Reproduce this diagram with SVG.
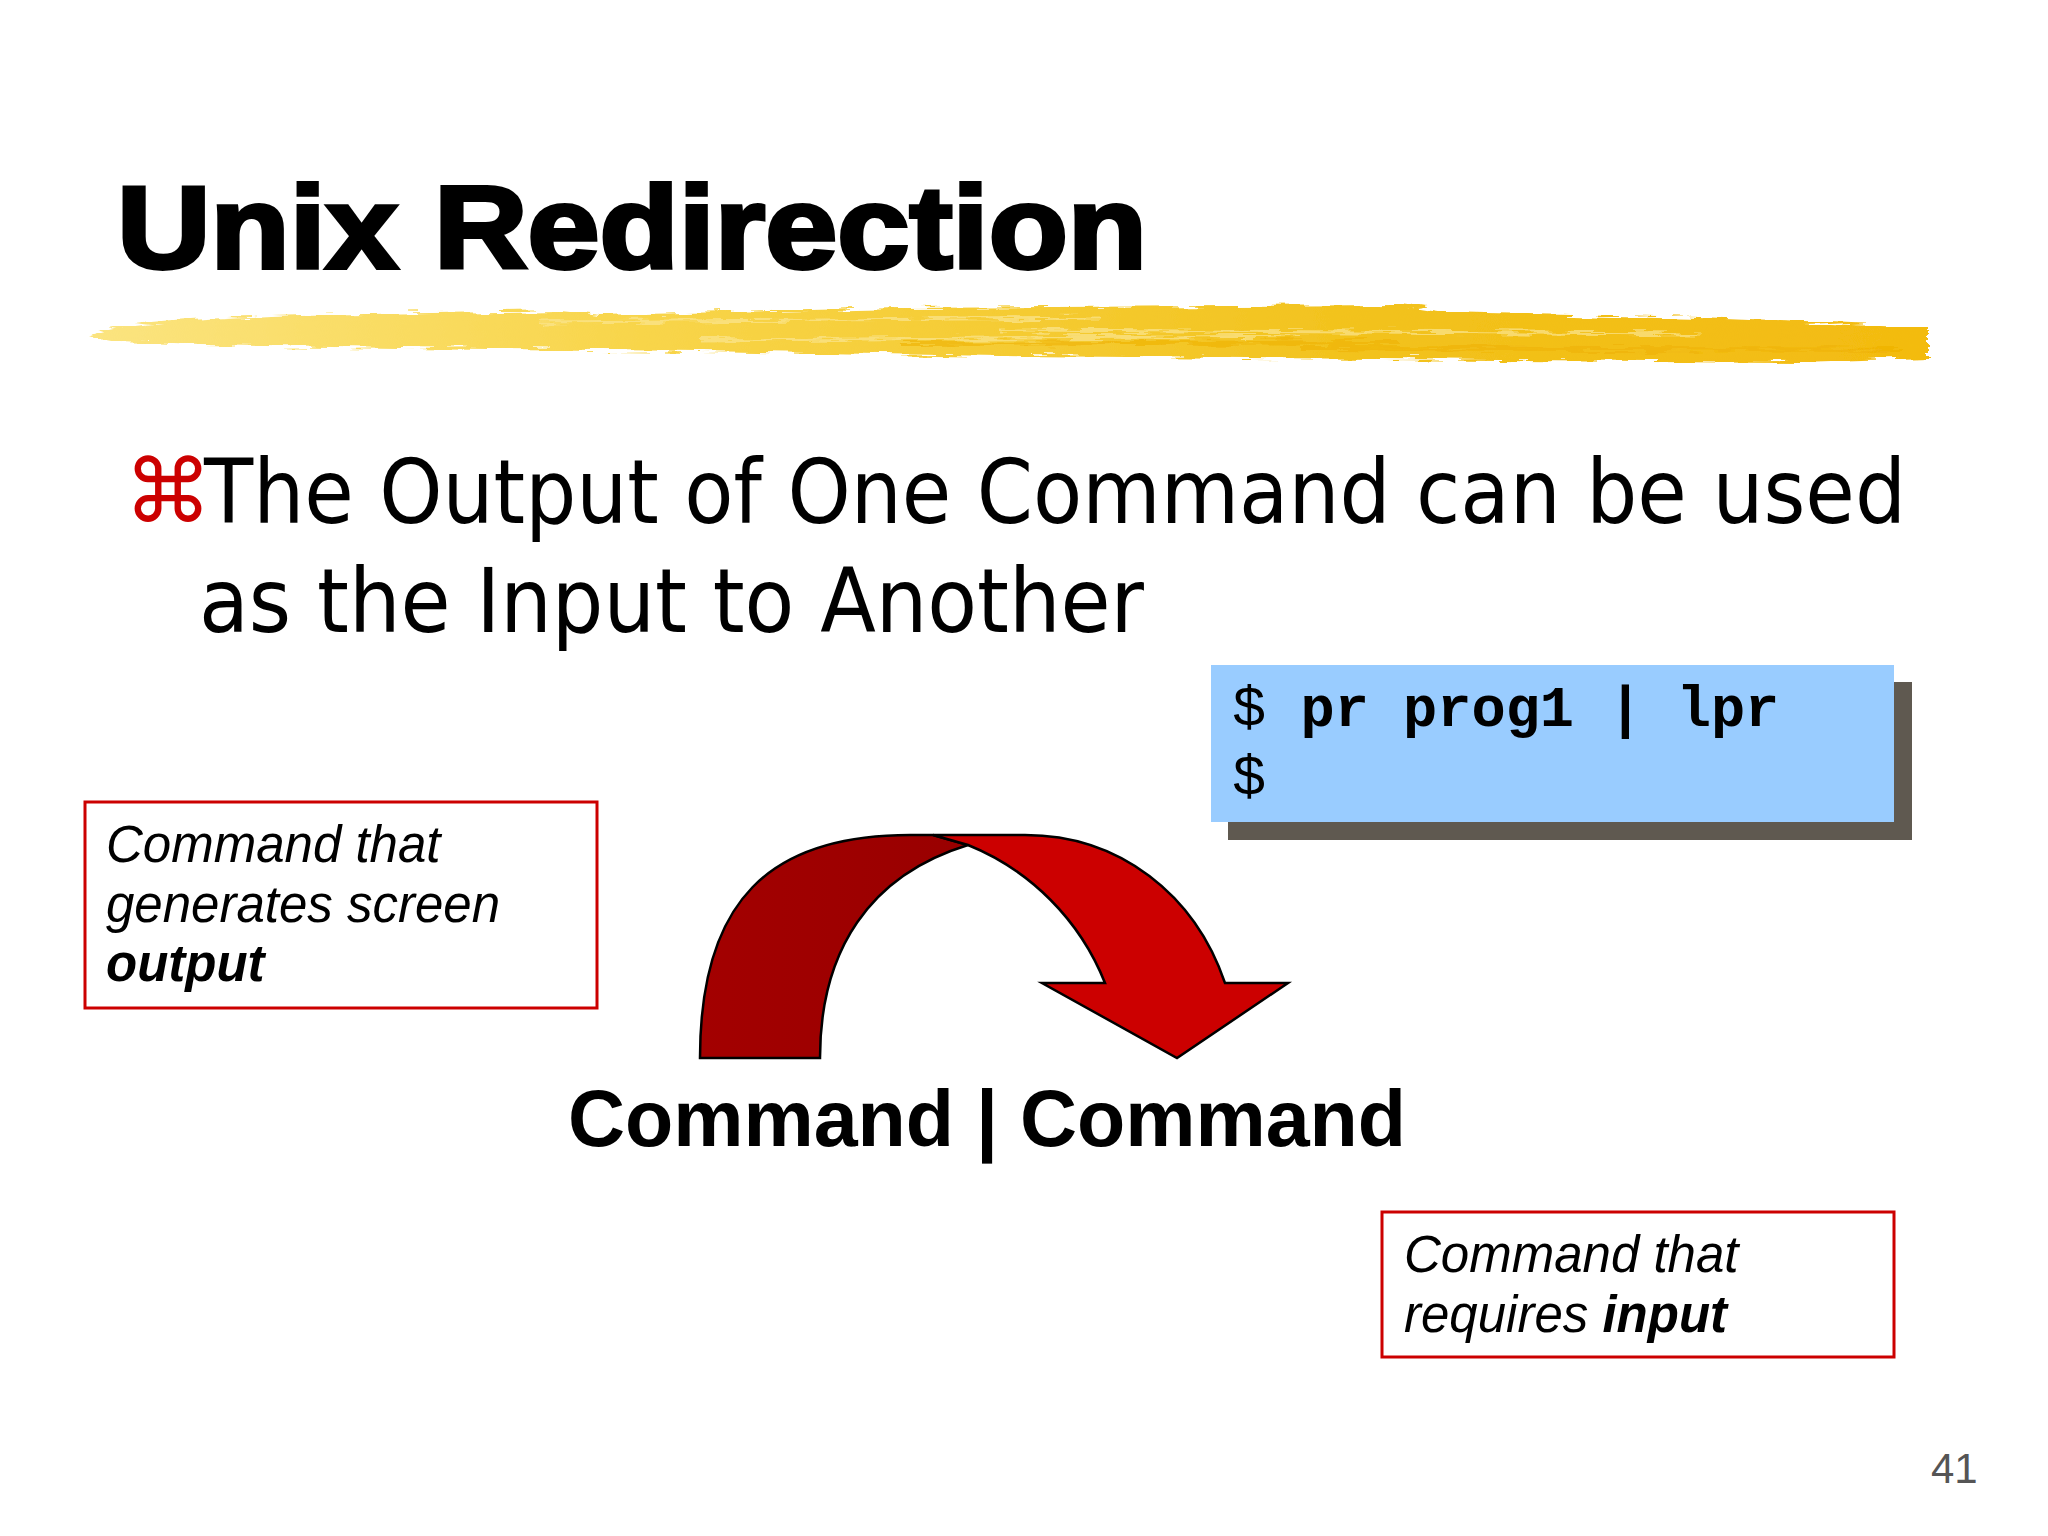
<svg xmlns="http://www.w3.org/2000/svg" width="2048" height="1536" viewBox="0 0 2048 1536">
<style>
.title{font-family:"Liberation Sans",Arial,sans-serif;font-weight:bold;font-size:116px;fill:#000;stroke:#000;stroke-width:4px}
.bullet{font-family:"DejaVu Sans Condensed","DejaVu Sans",sans-serif;font-stretch:condensed;font-size:89px;fill:#000}
.mark{font-family:"DejaVu Sans",sans-serif;font-size:88px;fill:#cc0000}
.note{font-family:"Liberation Sans",Arial,sans-serif;font-style:italic;font-size:51px;fill:#000}
.b{font-weight:bold}
.box{fill:#fff;stroke:#cc0000;stroke-width:3}
.code{font-family:"Liberation Mono","Courier New",monospace;font-size:57px;fill:#000}
.big{font-family:"Liberation Sans",Arial,sans-serif;font-weight:bold;font-size:80px;fill:#000}
.band{stroke:#000;stroke-width:2.5;stroke-linejoin:miter}
</style>
<defs>
<linearGradient id="brush" x1="0" y1="0" x2="1" y2="0">
<stop offset="0" stop-color="#fbe480"/>
<stop offset="0.3" stop-color="#f8d54a"/>
<stop offset="0.7" stop-color="#f2c21c"/>
<stop offset="1" stop-color="#f3bb10"/>
</linearGradient>
<linearGradient id="dark" x1="0" y1="0" x2="1" y2="0">
<stop offset="0" stop-color="#a30000"/>
<stop offset="1" stop-color="#990000"/>
</linearGradient>
<filter id="rough" x="-2%" y="-60%" width="104%" height="220%">
<feTurbulence type="fractalNoise" baseFrequency="0.03 0.25" numOctaves="2" seed="4" result="n"/>
<feDisplacementMap in="SourceGraphic" in2="n" scale="12" xChannelSelector="R" yChannelSelector="G"/>
</filter>
</defs>
<rect width="2048" height="1536" fill="#fff"/>

<g id="title">
<text class="title" x="117" y="268" textLength="1030" lengthAdjust="spacingAndGlyphs">Unix Redirection</text>
</g>

<g id="brush-stroke" filter="url(#rough)">
<path fill="url(#brush)" d="M88 336 C120 324 160 320 300 315 L560 311 L600 315 L900 308 L1400 305 L1445 312 L1700 318 L1928 327 L1928 358 L1800 362 L1500 360 L1000 356 L700 351 L400 348 L200 345 L120 342 Z"/>
<path fill="none" stroke="#fbe592" stroke-width="3" opacity="0.7" d="M540 322 L1100 318 M700 340 L1300 336 M1000 330 L1700 334"/>
<path fill="none" stroke="#eeb000" stroke-width="4" opacity="0.6" d="M1300 348 L1900 350 M900 344 L1400 342"/>
</g>

<g id="bullet">
<text class="mark" x="124" y="522">⌘</text>
<text class="bullet" x="204" y="523" textLength="1702" lengthAdjust="spacingAndGlyphs">The Output of One Command can be used</text>
<text class="bullet" x="199" y="632" textLength="945" lengthAdjust="spacingAndGlyphs">as the Input to Another</text>
</g>

<g id="code-box">
<rect x="1228" y="682" width="684" height="158" fill="#5f5950"/>
<rect x="1211" y="665" width="683" height="157" fill="#99ccff"/>
<text class="code" x="1232" y="726">$ <tspan class="b">pr prog1 | lpr</tspan></text>
<text class="code" x="1232" y="795">$</text>
</g>

<g id="output-note">
<rect class="box" x="85" y="802" width="512" height="206"/>
<text class="note" x="106" y="862">Command that</text>
<text class="note" x="106" y="922">generates screen</text>
<text class="note b" x="106" y="981">output</text>
</g>

<g id="input-note">
<rect class="box" x="1382" y="1212" width="512" height="145"/>
<text class="note" x="1404" y="1272">Command that</text>
<text class="note" x="1404" y="1332">requires <tspan class="b">input</tspan></text>
</g>

<g id="connectors">
<path class="band" fill="url(#dark)" d="M700 1058 C700 900 770 835 910 835 L933 835 L968 845 C870 875 820 950 820 1058 Z"/>
<path class="band" fill="#cc0000" d="M933 835 L1025 835 C1120 835 1195 895 1225 983 L1288 983 L1177 1058 L1042 983 L1105 983 C1080 920 1030 870 968 845 Z"/>
</g>

<g id="pipe-expr">
<text class="big" x="568" y="1146" textLength="838" lengthAdjust="spacingAndGlyphs">Command | Command</text>
</g>

<g id="page-number">
<text x="1931" y="1483" style="font-family:'Liberation Sans',Arial,sans-serif;font-size:42px;fill:#555">41</text>
</g>
</svg>
